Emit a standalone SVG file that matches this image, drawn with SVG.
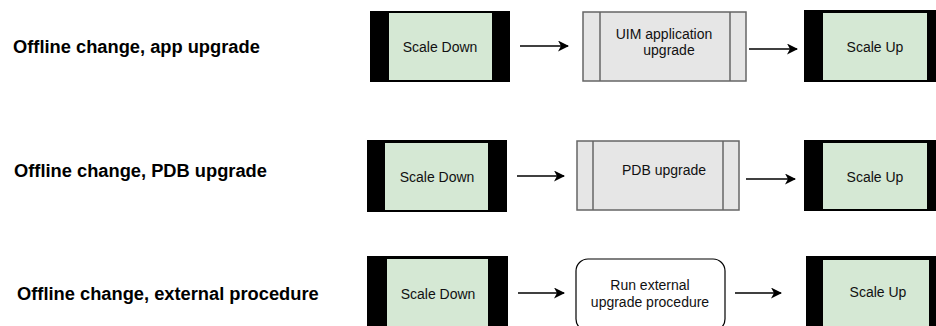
<svg xmlns="http://www.w3.org/2000/svg" width="936" height="326" viewBox="0 0 936 326">
<defs>
<marker id="ah" markerWidth="11" markerHeight="11" refX="10" refY="5.5" orient="auto" markerUnits="userSpaceOnUse">
<path d="M0,0 L11,5.5 L0,11 L3,5.5 Z" fill="#000"/>
</marker>
<style>
.title{font-family:"Liberation Sans",Arial,sans-serif;font-weight:bold;font-size:18.3px;fill:#000}
.lbl{font-family:"Liberation Sans",Arial,sans-serif;font-size:14px;fill:#111;text-anchor:middle}
.outer{fill:#000}
.inner{fill:#d5e8d4}
.proc{fill:#e6e6e6;stroke:#666;stroke-width:1.5}
.pline{stroke:#666;stroke-width:1.5}
.rnd{fill:#fff;stroke:#000;stroke-width:1.2}
.conn{stroke:#000;stroke-width:1.5;fill:none;marker-end:url(#ah)}
</style>
</defs>
<rect width="936" height="326" fill="#fff"/>
<g id="titles">
<text class="title" x="13" y="53">Offline change, app upgrade</text>
<text class="title" x="14" y="177">Offline change, PDB upgrade</text>
<text class="title" x="17" y="300">Offline change, external procedure</text>
</g>
<g id="row1-scale-down">
<rect class="outer" x="370" y="11" width="140" height="71"/>
<rect class="inner" x="389" y="13" width="103" height="67"/>
<text class="lbl" x="440" y="52">Scale Down</text>
</g>
<g id="row1-app-upgrade">
<rect class="proc" x="583" y="12" width="163" height="69"/>
<line class="pline" x1="600" y1="12" x2="600" y2="81"/>
<line class="pline" x1="730" y1="12" x2="730" y2="81"/>
<text class="lbl" x="664" y="39">UIM application</text>
<text class="lbl" x="669" y="55">upgrade</text>
</g>
<g id="row1-scale-up">
<rect class="outer" x="804" y="10" width="132" height="72"/>
<rect class="inner" x="823" y="13" width="104" height="67"/>
<text class="lbl" x="875" y="52">Scale Up</text>
</g>
<g id="row2-scale-down">
<rect class="outer" x="367" y="140" width="140" height="72"/>
<rect class="inner" x="385" y="143" width="103" height="67"/>
<text class="lbl" x="437" y="182">Scale Down</text>
</g>
<g id="row2-pdb-upgrade">
<rect class="proc" x="577" y="141" width="162" height="69"/>
<line class="pline" x1="593" y1="141" x2="593" y2="210"/>
<line class="pline" x1="723" y1="141" x2="723" y2="210"/>
<text class="lbl" x="664" y="175">PDB upgrade</text>
</g>
<g id="row2-scale-up">
<rect class="outer" x="804" y="140" width="132" height="71"/>
<rect class="inner" x="823" y="143" width="104" height="66"/>
<text class="lbl" x="875" y="182">Scale Up</text>
</g>
<g id="row3-scale-down">
<rect class="outer" x="367" y="256" width="141" height="72"/>
<rect class="inner" x="387" y="259" width="101" height="69"/>
<text class="lbl" x="438" y="299">Scale Down</text>
</g>
<g id="row3-external">
<rect class="rnd" x="576" y="259" width="149" height="72" rx="12" ry="12"/>
<text class="lbl" x="650" y="290">Run external</text>
<text class="lbl" x="650" y="307">upgrade procedure</text>
</g>
<g id="row3-scale-up">
<rect class="outer" x="806" y="256" width="130" height="72"/>
<rect class="inner" x="823" y="260" width="106" height="68"/>
<text class="lbl" x="878" y="297">Scale Up</text>
</g>
<g id="connectors">
<line class="conn" x1="520" y1="46" x2="568" y2="46"/>
<line class="conn" x1="749" y1="49" x2="797" y2="49"/>
<line class="conn" x1="517" y1="176" x2="564" y2="176"/>
<line class="conn" x1="746" y1="179" x2="795" y2="179"/>
<line class="conn" x1="518" y1="293" x2="564" y2="293"/>
<line class="conn" x1="735" y1="293" x2="781" y2="293"/>
</g>
</svg>
